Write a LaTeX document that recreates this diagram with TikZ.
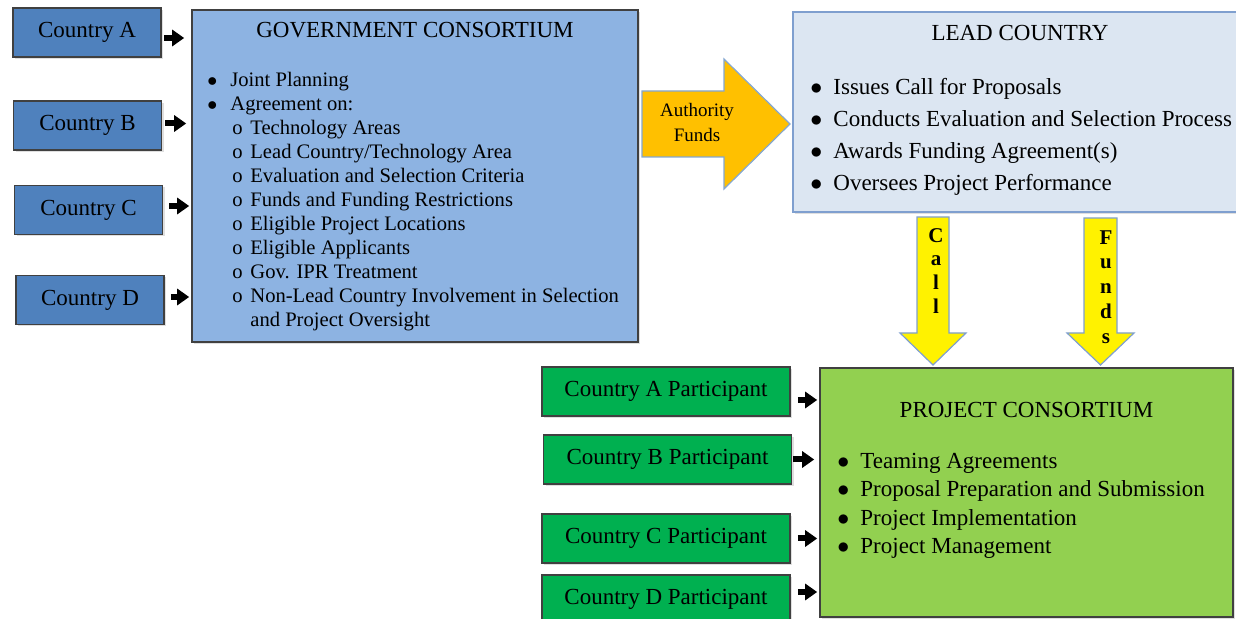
\documentclass[tikz,border=0pt]{standalone}
\usepackage{fontspec}
\setmainfont{Liberation Serif}
\usetikzlibrary{positioning,arrows.meta,shadows}

\definecolor{ctryblue}{HTML}{4F81BD}
\definecolor{govblue}{HTML}{8DB3E2}
\definecolor{leadblue}{HTML}{DCE6F2}
\definecolor{leadedge}{HTML}{7F9FCF}
\definecolor{authorange}{HTML}{FFC000}
\definecolor{partgreen}{HTML}{00B050}
\definecolor{projgreen}{HTML}{92D050}

\newcommand{\lbul}{\makebox[11.5pt][l]{$\bullet$}}
\newcommand{\lsub}{\hspace*{12.5pt}\makebox[9pt][l]{o}}

\begin{document}
\begin{tikzpicture}[x=0.5pt,y=-0.5pt,
    ctry/.style={draw=black!75,line width=0.8pt,fill=ctryblue,minimum width=74pt,minimum height=24.5pt,
      font=\fontsize{11.5}{13}\selectfont,drop shadow={opacity=0.25,shadow xshift=1pt,shadow yshift=-1pt}},
    part/.style={ctry,fill=partgreen,minimum width=124pt},
    panel/.style={draw=black!75,line width=0.8pt,inner sep=0,
      drop shadow={opacity=0.25,shadow xshift=1pt,shadow yshift=-1pt}},
    ttl/.style={inner sep=0,font=\fontsize{11.5}{13}\selectfont},
    lst/.style={inner sep=0,anchor=north west,align=left},
    feed/.style={-{Triangle[width=8pt,length=6pt]},line width=3pt},
    blk/.style={line width=0.6pt,line join=miter}]

    \useasboundingbox (0,0) rectangle (1236,619);

    % government side
    \node[ctry] (ca) at (87,32.5) {Country A};
    \node[ctry] (cb) at (87.5,125.5) {Country B};
    \node[ctry] (cc) at (88.5,210) {Country C};
    \node[ctry] (cd) at (90,300) {Country D};

    \node[panel,fill=govblue,minimum width=223pt,minimum height=166pt] (gov) at (415,176) {};
    \node[ttl,below=6.5pt of gov.north] (govttl) {GOVERNMENT CONSORTIUM};
    \node[lst,font=\fontsize{10.3}{12}\selectfont] (govlst) at (207,72)
      {\lbul Joint Planning\\
       \lbul Agreement on:\\
       \lsub Technology Areas\\
       \lsub Lead Country/Technology Area\\
       \lsub Evaluation and Selection Criteria\\
       \lsub Funds and Funding Restrictions\\
       \lsub Eligible Project Locations\\
       \lsub Eligible Applicants\\
       \lsub Gov. IPR Treatment\\
       \lsub Non-Lead Country Involvement in Selection\\
       \hspace*{21.5pt}and Project Oversight};

    % lead country
    \node[panel,draw=leadedge,fill=leadblue,minimum width=227pt,minimum height=100pt] (lead) at (1020,112) {};
    \node[ttl,below=6.7pt of lead.north] (leadttl) {LEAD COUNTRY};
    \node[lst,font=\fontsize{11.5}{16}\selectfont] (leadlst) at (810,77.5)
      {\lbul Issues Call for Proposals\\
       \lbul Conducts Evaluation and Selection Process\\
       \lbul Awards Funding Agreement(s)\\
       \lbul Oversees Project Performance};

    % project side
    \node[part] (pa) at (666,391.5) {Country A Participant};
    \node[part] (pb) at (667.5,459.5) {Country B Participant};
    \node[part] (pc) at (666,538.5) {Country C Participant};
    \node[part] (pd) at (666,599.5) {Country D Participant};

    \node[panel,fill=projgreen,minimum width=206.5pt,minimum height=124.5pt] (proj) at (1026.5,492.5) {};
    \node[ttl,below=17.5pt of proj.north] (projttl) {PROJECT CONSORTIUM};
    \node[lst,font=\fontsize{11.5}{14.3}\selectfont] (projlst) at (837,452.5)
      {\lbul Teaming Agreements\\
       \lbul Proposal Preparation and Submission\\
       \lbul Project Implementation\\
       \lbul Project Management};

    % block arrows
    \draw[blk,draw=ctryblue!70,fill=authorange] (642,91) -- (724,91) -- (724,59) -- (790,124)
      -- (724,189) -- (724,157) -- (642,157) -- cycle;
    \node[inner sep=0,align=center,font=\fontsize{9.5}{12.5}\selectfont] (auth) at (697,122.5) {Authority\\Funds};

    \draw[blk,draw=leadedge,fill=yellow] (917,217) -- (949,217) -- (949,333) -- (966,333)
      -- (933,365) -- (900,333) -- (917,333) -- cycle;
    \node[inner sep=0,anchor=north,align=center,font=\bfseries\fontsize{10.5}{11.8}\selectfont] (call) at (936,228) {C\\a\\l\\l};

    \draw[blk,draw=leadedge,fill=yellow] (1084,218) -- (1117,218) -- (1117,333) -- (1134,333)
      -- (1100.5,365) -- (1067,333) -- (1084,333) -- cycle;
    \node[inner sep=0,anchor=north,align=center,font=\bfseries\fontsize{10.5}{12.4}\selectfont] (funds) at (1106,230) {F\\u\\n\\d\\s};

    % small arrows
    \draw[feed,shorten <=1pt,shorten >=3.5pt] ([yshift=-2.75pt]ca.east) -- ([yshift=-2.75pt]ca.east -| gov.west);
    \draw[feed,shorten <=1.5pt,shorten >=2.5pt] ([yshift=1pt]cb.east) -- ([yshift=1pt]cb.east -| gov.west);
    \draw[feed,shorten <=3pt,shorten >=1pt] ([yshift=2pt]cc.east) -- ([yshift=2pt]cc.east -| gov.west);
    \draw[feed,shorten <=3pt,shorten >=1pt] ([yshift=1.5pt]cd.east) -- ([yshift=1.5pt]cd.east -| gov.west);

    \draw[feed,shorten <=3.5pt,shorten >=1pt] ([yshift=-4.25pt]pa.east) -- ([yshift=-4.25pt]pa.east -| proj.west);
    \draw[feed,shorten <=0.5pt,shorten >=2.5pt] (pb.east) -- (pb.east -| proj.west);
    \draw[feed,shorten <=3.5pt,shorten >=1pt] (pc.east) -- (pc.east -| proj.west);
    \draw[feed,shorten <=3.5pt,shorten >=1pt] ([yshift=3.75pt]pd.east) -- ([yshift=3.75pt]pd.east -| proj.west);
\end{tikzpicture}
\end{document}
